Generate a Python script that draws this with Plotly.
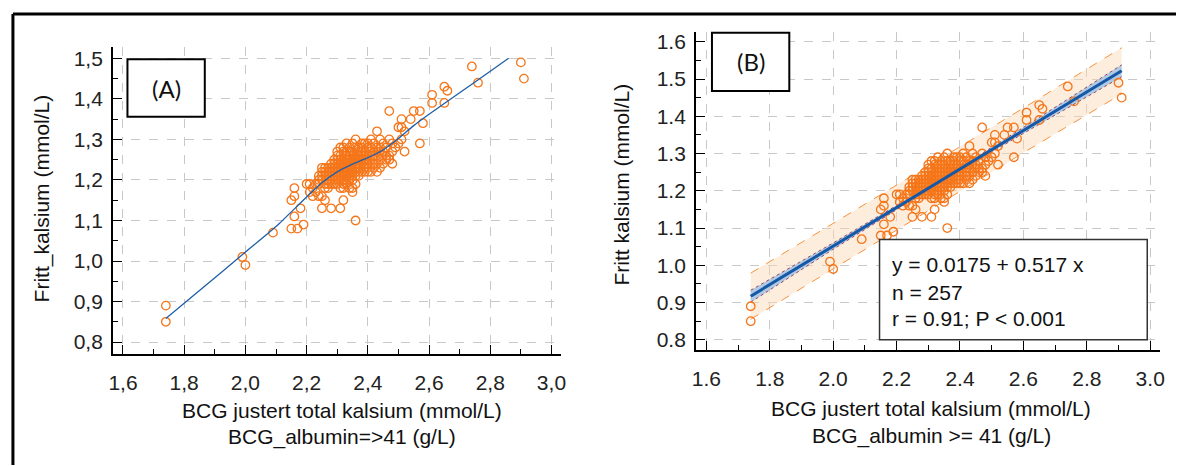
import plotly.graph_objects as go

W, H = 1181, 466

# ---------------- data ----------------
ca_total = [
    1.74, 1.74,
    1.99, 2.00, 2.09,
    2.15, 2.15,
    2.16, 2.16, 2.16,
    2.17, 2.18, 2.19, 2.20,
    2.21, 2.21,
    2.22, 2.22,
    2.23, 2.23,
    2.24, 2.24, 2.24, 2.24,
    2.25, 2.25, 2.25, 2.25, 2.25, 2.25,
    2.26, 2.26, 2.26, 2.26, 2.26, 2.26,
    2.27, 2.27, 2.27, 2.27, 2.27, 2.27,
    2.28, 2.28, 2.28, 2.28, 2.28, 2.28, 2.28,
    2.29, 2.29, 2.29, 2.29, 2.29, 2.29, 2.29,
    2.30, 2.30, 2.30, 2.30, 2.30, 2.30, 2.30, 2.30, 2.30,
    2.31, 2.31, 2.31, 2.31, 2.31, 2.31, 2.31, 2.31, 2.31, 2.31,
    2.32, 2.32, 2.32, 2.32, 2.32, 2.32, 2.32, 2.32, 2.32, 2.32, 2.32,
    2.33, 2.33, 2.33, 2.33, 2.33, 2.33, 2.33, 2.33, 2.33, 2.33,
    2.34, 2.34, 2.34, 2.34, 2.34, 2.34, 2.34, 2.34, 2.34, 2.34,
    2.35, 2.35, 2.35, 2.35, 2.35, 2.35, 2.35, 2.35, 2.35, 2.35, 2.35,
    2.36, 2.36, 2.36, 2.36, 2.36, 2.36, 2.36, 2.36, 2.36, 2.36,
    2.37, 2.37, 2.37, 2.37, 2.37, 2.37, 2.37, 2.37,
    2.38, 2.38, 2.38, 2.38, 2.38, 2.38, 2.38,
    2.39, 2.39, 2.39, 2.39, 2.39, 2.39, 2.39,
    2.40, 2.40, 2.40, 2.40, 2.40, 2.40, 2.40,
    2.41, 2.41, 2.41, 2.41, 2.41, 2.41,
    2.42, 2.42, 2.42, 2.42, 2.42, 2.42,
    2.43, 2.43, 2.43, 2.43, 2.43, 2.43,
    2.44, 2.44, 2.44, 2.44, 2.44,
    2.45, 2.45, 2.45, 2.45,
    2.46, 2.46, 2.46,
    2.47, 2.47, 2.47, 2.47,
    2.48, 2.48, 2.48,
    2.49,
    2.50, 2.50,
    2.51, 2.51, 2.51,
    2.52, 2.52,
    2.54, 2.55, 2.57, 2.57, 2.58,
    2.61, 2.61, 2.65, 2.65, 2.66,
    2.74, 2.76, 2.90, 2.91,
]
ca_free = [
    0.85, 0.89,
    1.01, 0.99, 1.07,
    1.15, 1.08,
    1.18, 1.16, 1.11,
    1.08, 1.13, 1.09, 1.19,
    1.19, 1.17,
    1.16, 1.18,
    1.17, 1.19,
    1.20, 1.21, 1.19, 1.16,
    1.23, 1.21, 1.20, 1.16, 1.13, 1.22,
    1.23, 1.22, 1.21, 1.19, 1.15, 1.18,
    1.22, 1.21, 1.20, 1.23, 1.19, 1.18,
    1.24, 1.22, 1.21, 1.20, 1.19, 1.13, 1.23,
    1.24, 1.23, 1.22, 1.21, 1.20, 1.19, 1.25,
    1.27, 1.25, 1.24, 1.23, 1.22, 1.21, 1.20, 1.19, 1.26,
    1.26, 1.25, 1.24, 1.23, 1.22, 1.21, 1.20, 1.18, 1.13, 1.28,
    1.28, 1.27, 1.25, 1.24, 1.23, 1.22, 1.21, 1.20, 1.19, 1.18, 1.15,
    1.29, 1.27, 1.26, 1.25, 1.24, 1.23, 1.22, 1.21, 1.20, 1.19,
    1.28, 1.27, 1.26, 1.25, 1.24, 1.23, 1.22, 1.21, 1.20, 1.18,
    1.29, 1.27, 1.25, 1.24, 1.23, 1.22, 1.21, 1.20, 1.18, 1.17, 1.26,
    1.30, 1.28, 1.26, 1.25, 1.24, 1.23, 1.22, 1.21, 1.10, 1.19,
    1.28, 1.27, 1.26, 1.25, 1.24, 1.23, 1.22, 1.21,
    1.28, 1.27, 1.26, 1.25, 1.24, 1.22, 1.29,
    1.29, 1.27, 1.26, 1.25, 1.24, 1.23, 1.22,
    1.29, 1.28, 1.26, 1.25, 1.24, 1.23, 1.22,
    1.30, 1.28, 1.27, 1.26, 1.24, 1.22,
    1.29, 1.27, 1.26, 1.25, 1.24, 1.23,
    1.32, 1.28, 1.26, 1.24, 1.22, 1.27,
    1.30, 1.28, 1.27, 1.25, 1.23,
    1.29, 1.27, 1.26, 1.24,
    1.28, 1.26, 1.25,
    1.37, 1.30, 1.26, 1.25,
    1.29, 1.27, 1.24,
    1.28,
    1.33, 1.29,
    1.35, 1.33, 1.30,
    1.32, 1.27,
    1.35, 1.37, 1.37, 1.29, 1.34,
    1.41, 1.39, 1.43, 1.39, 1.42,
    1.48, 1.44, 1.49, 1.45,
]

# smoothed curve of panel A
smooth_x = [1.74, 1.85, 2.00, 2.10, 2.20, 2.25, 2.30, 2.35, 2.40, 2.45,
            2.50, 2.55, 2.60, 2.70, 2.80, 2.86]
smooth_y = [0.858, 0.927, 1.022, 1.085, 1.158, 1.193, 1.220, 1.239, 1.255, 1.274,
            1.302, 1.334, 1.362, 1.415, 1.468, 1.500]

# regression line, confidence and prediction bands of panel B
reg_x = [1.74, 2.91]
reg_y = [0.917, 1.522]
band_x = [1.74, 2.00, 2.33, 2.60, 2.91]
ci_hi = [0.933, 1.060, 1.226, 1.370, 1.538]
ci_lo = [0.901, 1.043, 1.218, 1.354, 1.506]
pi_hi = [0.979, 1.112, 1.282, 1.422, 1.584]
pi_lo = [0.855, 0.991, 1.162, 1.302, 1.460]

# ticks
x_ticks = [1.6, 1.8, 2.0, 2.2, 2.4, 2.6, 2.8, 3.0]
x_text_a = ["1,6", "1,8", "2,0", "2,2", "2,4", "2,6", "2,8", "3,0"]
x_text_b = ["1.6", "1.8", "2.0", "2.2", "2.4", "2.6", "2.8", "3.0"]
y_ticks_a = [0.8, 0.9, 1.0, 1.1, 1.2, 1.3, 1.4, 1.5]
y_text_a = ["0,8", "0,9", "1,0", "1,1", "1,2", "1,3", "1,4", "1,5"]
y_ticks_b = [0.8, 0.9, 1.0, 1.1, 1.2, 1.3, 1.4, 1.5, 1.6]
y_text_b = ["0.8", "0.9", "1.0", "1.1", "1.2", "1.3", "1.4", "1.5", "1.6"]

# ---------------- styles ----------------
ORANGE = "#F5761A"
BLUE = "#1F5FA8"
FONT = "Liberation Sans, Arial, sans-serif"


def px(x):
    return x / W


def py(y):
    return 1 - y / H


fig = go.Figure()

marker = dict(symbol="circle-open", size=8.5, color=ORANGE,
              line=dict(width=1.3, color=ORANGE))

# Panel A
fig.add_trace(go.Scatter(x=ca_total, y=ca_free, mode="markers", xaxis="x", yaxis="y",
                         marker=marker, showlegend=False, cliponaxis=False))
fig.add_trace(go.Scatter(x=smooth_x, y=smooth_y, mode="lines", xaxis="x", yaxis="y",
                         line=dict(color=BLUE, width=1.3, shape="spline", smoothing=0.6),
                         showlegend=False))

# Panel B: prediction band
fig.add_trace(go.Scatter(x=band_x, y=pi_lo, mode="lines", xaxis="x2", yaxis="y2",
                         line=dict(color="#F7913D", width=1, dash="dash"),
                         showlegend=False))
fig.add_trace(go.Scatter(x=band_x, y=pi_hi, mode="lines", xaxis="x2", yaxis="y2",
                         line=dict(color="#F7913D", width=1, dash="dash"),
                         fill="tonexty", fillcolor="rgba(251,214,180,0.45)",
                         showlegend=False))
# confidence band
fig.add_trace(go.Scatter(x=band_x, y=ci_lo, mode="lines", xaxis="x2", yaxis="y2",
                         line=dict(color="#8B2240", width=0.8, dash="dot"),
                         showlegend=False))
fig.add_trace(go.Scatter(x=band_x, y=ci_hi, mode="lines", xaxis="x2", yaxis="y2",
                         line=dict(color="#8B2240", width=0.8, dash="dot"),
                         fill="tonexty", fillcolor="rgba(150,190,230,0.75)",
                         showlegend=False))
fig.add_trace(go.Scatter(x=ca_total, y=ca_free, mode="markers", xaxis="x2", yaxis="y2",
                         marker=marker, showlegend=False, cliponaxis=False))
fig.add_trace(go.Scatter(x=reg_x, y=reg_y, mode="lines", xaxis="x2", yaxis="y2",
                         line=dict(color="#1558A6", width=3),
                         showlegend=False))

tickfont = dict(family=FONT, size=21, color="#222")
common_x = dict(tickmode="array", tickvals=x_ticks, ticks="inside", ticklen=9,
                tickwidth=1.2, tickcolor="black", showline=True, linecolor="black",
                linewidth=2, showgrid=True, gridcolor="#C8C8C8", gridwidth=1,
                griddash="dash", zeroline=False, tickfont=tickfont,
                ticklabelstandoff=9,
                minor=dict(tickmode="linear", tick0=0, dtick=0.1, ticks="inside",
                           ticklen=5, tickcolor="black", tickwidth=1, showgrid=False))
common_y = dict(tickmode="array", ticks="inside", ticklen=9,
                tickwidth=1.2, tickcolor="black", showline=True, linecolor="black",
                linewidth=2, showgrid=True, gridcolor="#C8C8C8", gridwidth=1,
                griddash="dash", zeroline=False, tickfont=tickfont,
                ticklabelstandoff=4,
                minor=dict(tickmode="linear", tick0=0, dtick=0.05, ticks="inside",
                           ticklen=5, tickcolor="black", tickwidth=1, showgrid=False))

fig.update_layout(
    width=W, height=H, margin=dict(l=0, r=0, t=0, b=0),
    paper_bgcolor="white", plot_bgcolor="white",
    xaxis=dict(domain=[px(109), px(561)], range=[1.5676, 3.032], anchor="y",
               ticktext=x_text_a, **common_x),
    yaxis=dict(domain=[py(354), py(45)], range=[0.7713, 1.5287], anchor="x",
               tickvals=y_ticks_a, ticktext=y_text_a, **common_y),
    xaxis2=dict(domain=[px(697), px(1165)], range=[1.5677, 3.0313], anchor="y2",
                ticktext=x_text_b, **common_x),
    yaxis2=dict(domain=[py(350), py(30)], range=[0.7733, 1.6267], anchor="x2",
                tickvals=y_ticks_b, ticktext=y_text_b, **common_y),
)

shapes = [
    # frame lines
    dict(type="line", xref="paper", yref="paper", x0=px(8), x1=1, y0=py(12), y1=py(12),
         line=dict(color="black", width=3)),
    dict(type="line", xref="paper", yref="paper", x0=px(8), x1=px(8), y0=py(12), y1=0,
         line=dict(color="black", width=3)),
    # (A) box
    dict(type="rect", xref="paper", yref="paper", x0=px(123.5), x1=px(201.5),
         y0=py(115.5), y1=py(57.5), line=dict(color="black", width=2),
         fillcolor="white", layer="above"),
    # (B) box
    dict(type="rect", xref="paper", yref="paper", x0=px(713), x1=px(791),
         y0=py(89.5), y1=py(31), line=dict(color="black", width=2),
         fillcolor="white", layer="above"),
    # statistics box
    dict(type="rect", xref="paper", yref="paper", x0=px(882), x1=px(1152),
         y0=py(340), y1=py(239), line=dict(color="#333", width=1.5),
         fillcolor="white", layer="above"),
]
fig.update_layout(shapes=shapes)

ann = []


def text(x, y, s, size=21, angle=0, xanchor="center", family=FONT):
    ann.append(dict(x=px(x), y=py(y), xref="paper", yref="paper", text=s,
                    showarrow=False, xanchor=xanchor, yanchor="middle",
                    textangle=angle, font=dict(family=family, size=size, color="#111")))


text(162.5, 87, "(A)", size=24, family="Lato, Open Sans, sans-serif")
text(752, 60, "(B)", size=24, family="Lato, Open Sans, sans-serif")
text(340, 411, "BCG justert total kalsium (mmol/L)")
text(340, 438, "BCG_albumin=>41 (g/L)")
text(934, 409, "BCG justert total kalsium (mmol/L)")
text(934, 437, "BCG_albumin >= 41 (g/L)")
text(37, 198, "Fritt_kalsium (mmol/L)", angle=-90)
text(622, 184, "Fritt kalsium (mmol/L)", angle=-90)
text(893, 264, "y = 0.0175 + 0.517 x", xanchor="left")
text(893, 292, "n = 257", xanchor="left")
text(893, 319, "r = 0.91; P < 0.001", xanchor="left")
fig.update_layout(annotations=ann)

fig.write_html("out.html")
